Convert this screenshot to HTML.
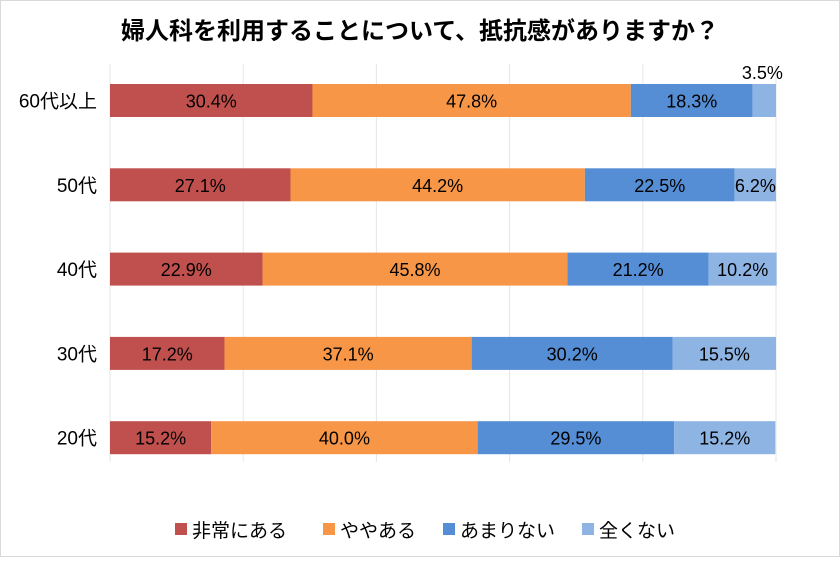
<!DOCTYPE html>
<html><head><meta charset="utf-8"><style>
body{margin:0;background:#fff;}
svg text{font-family:"Liberation Sans","Noto Sans CJK JP",sans-serif;}
</style></head><body>
<svg width="840" height="557" viewBox="0 0 840 557">
<rect x="0.5" y="0.5" width="839" height="556" fill="#fff" stroke="#d9d9d9"/>
<text x="420" y="39" text-anchor="middle" font-size="24" font-weight="bold" fill="#000">婦人科を利用することについて、抵抗感がありますか？</text>
<g id="grid"></g>
<g id="bars"></g>
<g id="legend"></g>
</svg>
<script>
const categories=["60代以上","50代","40代","30代","20代"];
const seriesNames=["非常にある","ややある","あまりない","全くない"];
const s1=[30.4,27.1,22.9,17.2,15.2];
const s2=[47.8,44.2,45.8,37.1,40.0];
const s3=[18.3,22.5,21.2,30.2,29.5];
const s4=[3.5,6.2,10.2,15.5,15.2];
const gridTicks=[0,20,40,60,80,100];
const colors=["#C0504D","#F79646","#558ED5","#8EB4E3"];
const NS="http://www.w3.org/2000/svg";
const X0=110,X1=776,Y0=84,PITCH=84.3,BH=33;
const x=v=>X0+v/100*(X1-X0);
const yb=i=>Y0+i*PITCH;
function mk(t,a,p){const e=document.createElementNS(NS,t);for(const k in a)e.setAttribute(k,a[k]);p.appendChild(e);return e;}
const grid=document.getElementById('grid');
gridTicks.forEach(t=>{const l=mk('line',{x1:x(t),x2:x(t),y1:64,y2:462,stroke:'#e6e6e6','stroke-width':1},grid);

});
const bars=document.getElementById('bars');
const series=[s1,s2,s3,s4];
categories.forEach((c,i)=>{
 const lab=mk('text',{x:97,y:yb(i)+BH/2+7,'text-anchor':'end','font-size':19,fill:'#000'},bars);lab.textContent=c;
 
 
 let acc=0;
 series.forEach((s,j)=>{
  const v=s[i];
  const r=mk('rect',{x:x(acc),y:yb(i),width:x(acc+v)-x(acc),height:BH,fill:colors[j]},bars);
  
  
  const small=(x(acc+v)-x(acc))<40;
  const t=mk('text',{x:small&&j===3&&v<5?x(acc+v/2)-2:(x(acc)+x(acc+v))/2,y:small&&v<5?yb(i)-5:yb(i)+BH/2+7,'text-anchor':'middle','font-size':18,fill:'#000'},bars);
  t.textContent=v.toFixed(1)+"%";
  
  
  acc+=v;
 });
});
const lg=document.getElementById('legend');
const lx=[175,323,443,582];
seriesNames.forEach((n,j)=>{
 const r=mk('rect',{x:lx[j],y:523,width:12,height:12,fill:colors[j]},lg);
 
 
 const t=mk('text',{x:lx[j]+17,y:537,'font-size':19,fill:'#000'},lg);t.textContent=n;
 
 
});
</script>
</body></html>
